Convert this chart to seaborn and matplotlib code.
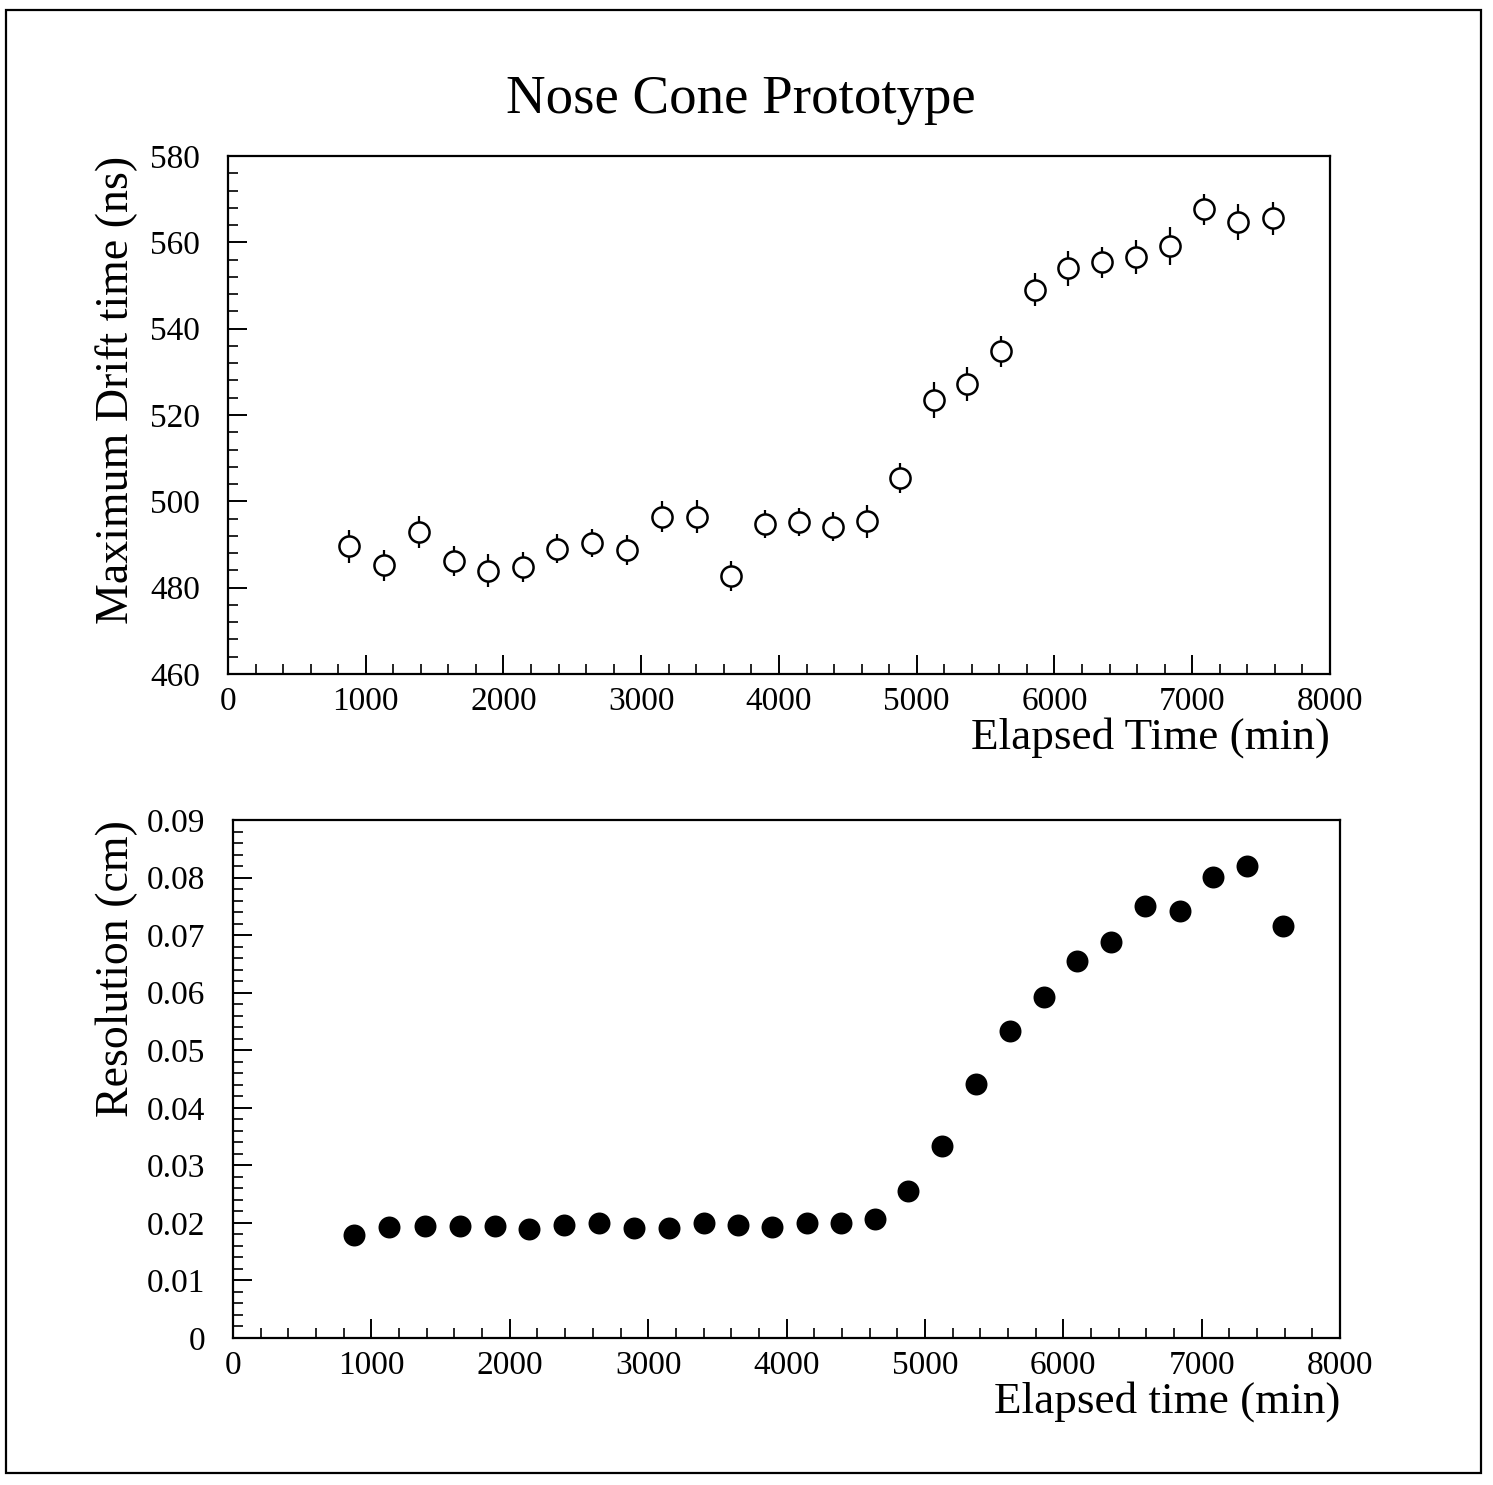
import pandas as pd
import numpy as np
import seaborn as sns
import matplotlib.pyplot as plt
from matplotlib.ticker import MultipleLocator, FuncFormatter
from matplotlib.patches import Rectangle

# elapsed time of each run (min)
elapsed = [877, 1130, 1384, 1638, 1891, 2140, 2392, 2645, 2900, 3148,
           3402, 3650, 3898, 4145, 4392, 4638, 4880, 5126, 5368, 5615,
           5858, 6100, 6343, 6592, 6840, 7085, 7330, 7587]

drift_max = [489.6, 485.2, 492.9, 486.2, 483.9, 484.8, 489.0, 490.3, 488.7, 496.4,
             496.4, 482.7, 494.7, 495.2, 494.1, 495.4, 505.4, 523.5, 527.2, 534.8,
             549.0, 554.0, 555.4, 556.6, 559.1, 567.7, 564.7, 565.6]
drift_err = [3.8, 3.6, 3.8, 3.4, 3.8, 3.4, 3.4, 3.2, 3.4, 3.6,
             3.8, 3.4, 3.2, 3.2, 3.4, 3.8, 3.4, 4.2, 4.0, 3.6,
             3.8, 4.0, 3.6, 4.0, 4.4, 3.6, 4.2, 3.8]

resolution = [0.0179, 0.0193, 0.0195, 0.0195, 0.0195, 0.0189, 0.0196, 0.0200, 0.0191, 0.0191,
              0.0200, 0.0196, 0.0193, 0.0200, 0.0200, 0.0207, 0.0255, 0.0334, 0.0441, 0.0533,
              0.0592, 0.0655, 0.0688, 0.0750, 0.0742, 0.0801, 0.0820, 0.0716]

df = pd.DataFrame({'Elapsed': elapsed, 'Drift': drift_max,
                   'Err': drift_err, 'Resolution': resolution})

sns.set_style('ticks')
plt.rcParams['font.family'] = ['Liberation Serif', 'DejaVu Serif']
plt.rcParams['axes.linewidth'] = 1.6
plt.rcParams['xtick.direction'] = 'in'
plt.rcParams['ytick.direction'] = 'in'
plt.rcParams['text.color'] = 'black'
plt.rcParams['axes.labelcolor'] = 'black'
plt.rcParams['xtick.color'] = 'black'
plt.rcParams['ytick.color'] = 'black'

fig = plt.figure(figsize=(14.93, 14.85), dpi=100)

# outer frame of the page
fig.patches.append(Rectangle((0.004, 0.008), 0.988, 0.985, transform=fig.transFigure,
                             fill=False, lw=1.6, ec='black'))

ax1 = fig.add_axes([0.1527, 1 - 674 / 1485, (1330 - 228) / 1493, (674 - 156) / 1485])
ax2 = fig.add_axes([0.1561, 1 - 1338 / 1485, (1340 - 233) / 1493, (1338 - 820) / 1485])

# top: maximum drift time with error bars
ax1.errorbar(df['Elapsed'], df['Drift'], yerr=df['Err'], fmt='none',
             ecolor='black', elinewidth=1.6, capsize=0, zorder=2)
sns.scatterplot(data=df, x='Elapsed', y='Drift', ax=ax1, s=210, marker='o',
                facecolor='white', edgecolor='black', linewidth=1.8, zorder=3)
ax1.set_xlim(0, 8000)
ax1.set_ylim(460, 580)
ax1.yaxis.set_major_locator(MultipleLocator(20))
ax1.yaxis.set_minor_locator(MultipleLocator(4))
ax1.set_ylabel('Maximum Drift time (ns)', fontsize=33, labelpad=9, loc='top')
ax1.set_xlabel('Elapsed Time (min)', fontsize=32.5, loc='right', labelpad=0)

# bottom: resolution
sns.scatterplot(data=df, x='Elapsed', y='Resolution', ax=ax2, s=250, marker='o',
                color='black', edgecolor='black', linewidth=0, zorder=3)
ax2.set_xlim(0, 8000)
ax2.set_ylim(0, 0.09)
ax2.yaxis.set_major_locator(MultipleLocator(0.01))
ax2.yaxis.set_minor_locator(MultipleLocator(0.002))
ax2.yaxis.set_major_formatter(FuncFormatter(lambda v, p: '0' if abs(v) < 1e-9 else '%.2f' % v))
ax2.set_ylabel('Resolution (cm)', fontsize=33, labelpad=6, loc='top')
ax2.set_xlabel('Elapsed time (min)', fontsize=32.5, loc='right', labelpad=0)

for ax in (ax1, ax2):
    ax.xaxis.set_major_locator(MultipleLocator(1000))
    ax.xaxis.set_minor_locator(MultipleLocator(200))
    ax.tick_params(which='major', length=14, width=1.4, labelsize=24,
                   top=False, right=False)
    ax.tick_params(axis='x', which='major', pad=9)
    ax.tick_params(axis='y', which='major', pad=20)
    ax.tick_params(which='minor', length=7, width=1.2, top=False, right=False)
    for sp in ax.spines.values():
        sp.set_visible(True)
        sp.set_color('black')

fig.text(0.496, 1 - 100 / 1485, 'Nose Cone Prototype', ha='center', va='center',
         fontsize=39.5)

fig.savefig('out.png', dpi=100)
